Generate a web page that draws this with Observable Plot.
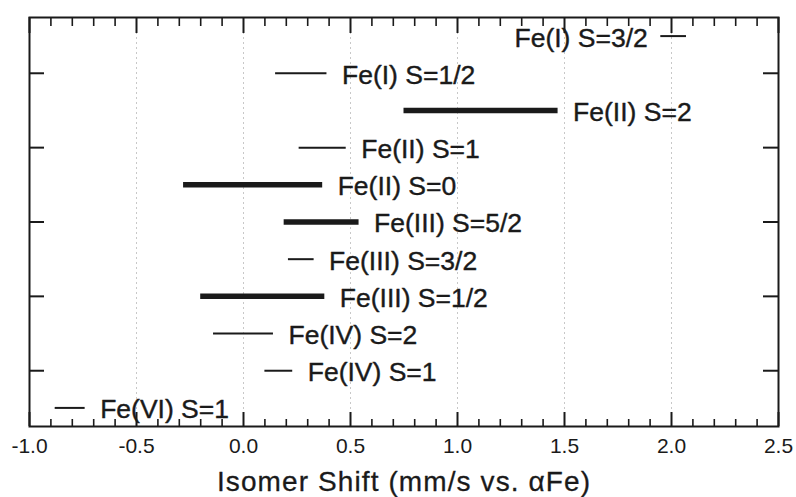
<!DOCTYPE html>
<html>
<head>
<meta charset="utf-8">
<script src="https://cdn.jsdelivr.net/npm/d3@7"></script>
<script src="https://cdn.jsdelivr.net/npm/@observablehq/plot@0.6"></script>
<style>
  html, body { margin: 0; padding: 0; background: #fff; }
  #chart { width: 796px; height: 497px; }
</style>
</head>
<body>
<div id="chart"></div>
<script>
// ---- data ----
const states = ["Fe(I) S=3/2", "Fe(I) S=1/2", "Fe(II) S=2", "Fe(II) S=1", "Fe(II) S=0",
                "Fe(III) S=5/2", "Fe(III) S=3/2", "Fe(III) S=1/2", "Fe(IV) S=2", "Fe(IV) S=1", "Fe(VI) S=1"];
const rowPos = [11, 10, 9, 8, 7, 6, 5, 4, 3, 2, 1];
const shiftLow  = [1.95, 0.15, 0.75, 0.26, -0.28, 0.19, 0.21, -0.20, -0.14, 0.10, -0.88];
const shiftHigh = [2.07, 0.39, 1.47, 0.48, 0.37, 0.54, 0.33, 0.38, 0.14, 0.23, -0.74];
const heavy = [false, false, true, false, true, true, false, true, false, false, false];
const labelLeft = [true, false, false, false, false, false, false, false, false, false, false];

const majorX = [-1.0, -0.5, 0.0, 0.5, 1.0, 1.5, 2.0, 2.5];
const gridX = [-0.5, 0.0, 0.5, 1.0, 1.5, 2.0];
const minorX = [-0.9, -0.8, -0.7, -0.6, -0.4, -0.3, -0.2, -0.1, 0.1, 0.2, 0.3, 0.4,
                0.6, 0.7, 0.8, 0.9, 1.1, 1.2, 1.3, 1.4, 1.6, 1.7, 1.8, 1.9, 2.1, 2.2, 2.3, 2.4];
const yTicks = [2, 4, 6, 8, 10];
const xTitle = "Isomer Shift (mm/s vs. αFe)";

const rows = states.map((s, i) => ({
  state: s, y: rowPos[i], lo: shiftLow[i], hi: shiftHigh[i], heavy: heavy[i], left: labelLeft[i]
}));

const ink = "#1a1a1a";
const font = "'Liberation Sans', Arial, Helvetica, sans-serif";

const W = 796, H = 497, mL = 29, mR = 18, mT = 17, mB = 71;
const fw = W - mL - mR, fh = H - mT - mB;

const chart = Plot.plot({
  width: W,
  height: H,
  marginLeft: mL,
  marginRight: mR,
  marginTop: mT,
  marginBottom: mB,
  style: { fontFamily: font, color: ink, background: "#fff", overflow: "visible" },
  x: { domain: [-1, 2.5] },
  y: { domain: [0.5, 11.5], axis: null },
  marks: [
    Plot.ruleX(gridX, { stroke: "#c8c8c8", strokeWidth: 1, strokeDasharray: "2,3" }),
    Plot.ruleY(rows.filter(d => !d.heavy), { x1: "lo", x2: "hi", y: "y", stroke: ink, strokeWidth: 2 }),
    Plot.ruleY(rows.filter(d => d.heavy), { x1: "lo", x2: "hi", y: "y", stroke: ink, strokeWidth: 5.5 }),
    Plot.text(rows.filter(d => !d.left), { x: "hi", y: "y", text: "state", textAnchor: "start", dx: 15, dy: 2,
      fontSize: 26.5, fill: ink, stroke: ink, strokeWidth: 0.4 }),
    Plot.text(rows.filter(d => d.left), { x: "lo", y: "y", text: "state", textAnchor: "end", dx: -13, dy: 2,
      fontSize: 26.5, fill: ink, stroke: ink, strokeWidth: 0.4 }),
    // inward ticks: bottom
    Plot.tickX(majorX, { x: d => d, insetTop: fh - 14, stroke: ink, strokeWidth: 2 }),
    Plot.tickX(minorX, { x: d => d, insetTop: fh - 7, stroke: ink, strokeWidth: 1.6 }),
    // inward ticks: top
    Plot.tickX(majorX, { x: d => d, insetBottom: fh - 16, stroke: ink, strokeWidth: 2 }),
    Plot.tickX(minorX, { x: d => d, insetBottom: fh - 9, stroke: ink, strokeWidth: 1.6 }),
    // inward ticks: left & right
    Plot.tickY(yTicks, { y: d => d, insetRight: fw - 15, stroke: ink, strokeWidth: 2 }),
    Plot.tickY(yTicks, { y: d => d, insetLeft: fw - 15, stroke: ink, strokeWidth: 2 }),
    // tick labels
    Plot.axisX(majorX, { anchor: "bottom", tickSize: 0, tickPadding: 12, tickFormat: d => d.toFixed(1),
      fontSize: 21, fill: ink, stroke: ink, strokeWidth: 0.3, label: null }),
    // axis title
    Plot.text([xTitle], { frameAnchor: "bottom", text: d => d, lineAnchor: "bottom", dy: 64,
      fontSize: 28, fill: ink, stroke: ink, strokeWidth: 0.3 }),
    Plot.frame({ stroke: ink, strokeWidth: 2 })
  ]
});
chart.querySelectorAll("text").forEach(t => {
  if (t.textContent === xTitle) t.setAttribute("letter-spacing", "1.1");
});
document.getElementById("chart").appendChild(chart);
</script>
</body>
</html>
